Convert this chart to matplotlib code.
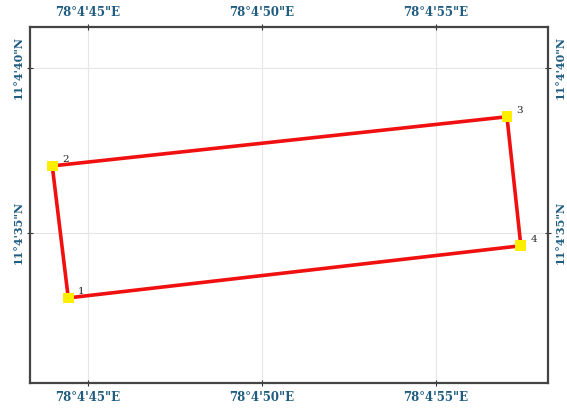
import matplotlib.pyplot as plt
from matplotlib.ticker import FuncFormatter

# corner points, seconds past 78°4' E and 11°4' N
point_ids = ["1", "2", "3", "4"]
lon_sec = [44.43, 43.97, 57.04, 57.44]
lat_sec = [33.03, 37.03, 38.52, 34.61]

x_ticks = [45, 50, 55]
y_ticks = [35, 40]

label_col = "#1f5c80"

fig = plt.figure(figsize=(5.67, 4.13), dpi=100)
ax = fig.add_axes([0.0529, 0.0726, 0.9136, 0.862])

# closed polygon
xs = lon_sec + lon_sec[:1]
ys = lat_sec + lat_sec[:1]
ax.plot(xs, ys, color="#f01010", lw=2.6, zorder=3, solid_joinstyle="miter")
ax.scatter(lon_sec, lat_sec, marker="s", s=60, color="#ffee00", zorder=4, edgecolors="none")
for pid, x, y in zip(point_ids, lon_sec, lat_sec):
    ax.annotate(pid, (x, y), xytext=(7, 3), textcoords="offset points",
                fontsize=7.5, family="DejaVu Serif", color="#222222")

ax.set_xlim(43.33, 58.22)
ax.set_ylim(30.45, 41.24)
ax.set_xticks(x_ticks)
ax.set_yticks(y_ticks)
ax.xaxis.set_major_formatter(FuncFormatter(lambda v, p: "78°4'%d\"E" % round(v)))
ax.yaxis.set_major_formatter(FuncFormatter(lambda v, p: "11°4'%d\"N" % round(v)))
ax.grid(color="#e6e6e6", lw=0.8)
ax.set_axisbelow(True)

ax.tick_params(top=True, labeltop=True, right=True, labelright=True,
               direction="inout", length=5, width=0.8, color="#333333",
               labelsize=8.5, labelcolor=label_col, pad=3)
ax.tick_params(axis="y", labelsize=8, pad=2)
for t in ax.yaxis.get_major_ticks():
    for lab in (t.label1, t.label2):
        lab.set_rotation(90)
        lab.set_va("center")
        lab.set_family("DejaVu Serif")
        lab.set_fontweight("bold")
for t in ax.xaxis.get_major_ticks():
    for lab in (t.label1, t.label2):
        lab.set_family("DejaVu Serif")
        lab.set_fontweight("bold")

for s in ax.spines.values():
    s.set_color("#444444")
    s.set_linewidth(1.6)

fig.savefig("out.png", dpi=100)
